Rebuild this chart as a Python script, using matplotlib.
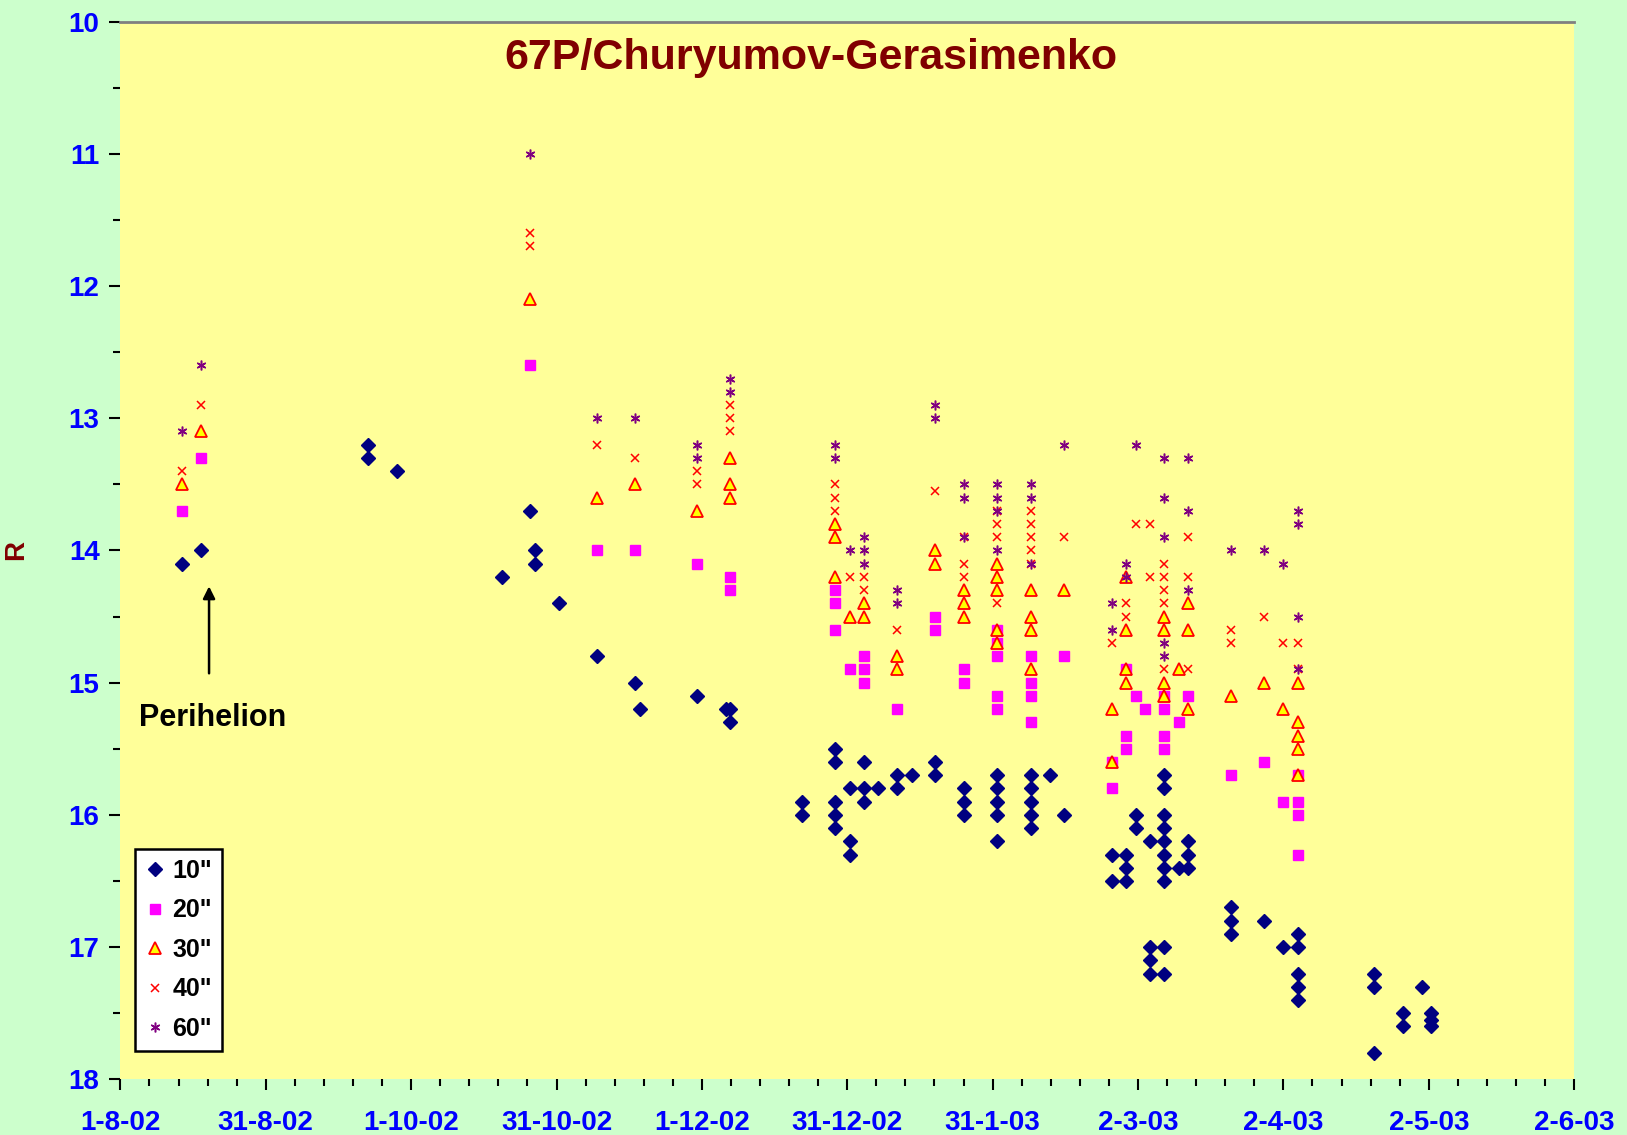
import matplotlib
matplotlib.use("Agg")
import matplotlib.pyplot as plt
import matplotlib.dates as mdates
from matplotlib.ticker import FixedLocator, NullFormatter

plt.rcParams['font.family'] = ['Liberation Sans', 'DejaVu Sans']
plt.rcParams['font.weight'] = 'bold'

# 10" telescope
d10 = ["2002-08-14", "2002-08-18", "2002-09-22", "2002-09-22", "2002-09-28",
       "2002-10-20", "2002-10-26", "2002-10-27", "2002-10-27", "2002-11-01",
       "2002-11-09", "2002-11-17", "2002-11-18", "2002-11-30", "2002-12-06",
       "2002-12-07", "2002-12-07", "2002-12-22", "2002-12-22",
       "2002-12-29", "2002-12-29", "2002-12-29", "2002-12-29", "2002-12-29",
       "2003-01-01", "2003-01-01", "2003-01-01", "2003-01-04", "2003-01-04",
       "2003-01-04", "2003-01-07", "2003-01-11", "2003-01-11", "2003-01-14",
       "2003-01-19", "2003-01-19", "2003-01-25", "2003-01-25", "2003-01-25",
       "2003-02-01", "2003-02-01", "2003-02-01", "2003-02-01", "2003-02-01",
       "2003-02-08", "2003-02-08", "2003-02-08", "2003-02-08", "2003-02-08",
       "2003-02-12", "2003-02-15", "2003-02-25", "2003-02-25",
       "2003-02-28", "2003-02-28", "2003-02-28", "2003-03-02", "2003-03-02",
       "2003-03-05", "2003-03-05", "2003-03-05", "2003-03-05",
       "2003-03-08", "2003-03-08", "2003-03-08", "2003-03-08", "2003-03-08",
       "2003-03-08", "2003-03-08", "2003-03-08", "2003-03-08", "2003-03-08",
       "2003-03-11", "2003-03-13", "2003-03-13", "2003-03-13",
       "2003-03-22", "2003-03-22", "2003-03-22", "2003-03-29", "2003-04-02",
       "2003-04-05", "2003-04-05", "2003-04-05", "2003-04-05", "2003-04-05",
       "2003-04-21", "2003-04-21", "2003-04-21", "2003-04-27", "2003-04-27",
       "2003-05-01", "2003-05-03", "2003-05-03", "2003-05-03"]
r10 = [14.1, 14.0, 13.2, 13.3, 13.4,
       14.2, 13.7, 14.0, 14.1, 14.4,
       14.8, 15.0, 15.2, 15.1, 15.2,
       15.2, 15.3, 15.9, 16.0,
       15.5, 15.6, 15.9, 16.0, 16.1,
       15.8, 16.2, 16.3, 15.6, 15.8,
       15.9, 15.8, 15.7, 15.8, 15.7,
       15.6, 15.7, 15.8, 15.9, 16.0,
       15.7, 15.8, 15.9, 16.0, 16.2,
       15.7, 15.8, 15.9, 16.0, 16.1,
       15.7, 16.0, 16.3, 16.5,
       16.3, 16.4, 16.5, 16.0, 16.1,
       16.2, 17.0, 17.1, 17.2,
       15.7, 15.8, 16.0, 16.1, 16.2,
       16.3, 16.4, 16.5, 17.0, 17.2,
       16.4, 16.2, 16.3, 16.4,
       16.7, 16.8, 16.9, 16.8, 17.0,
       16.9, 17.0, 17.2, 17.3, 17.4,
       17.2, 17.3, 17.8, 17.5, 17.6,
       17.3, 17.5, 17.55, 17.6]

# 20" telescope
d20 = ["2002-08-14", "2002-08-18", "2002-10-26", "2002-11-09", "2002-11-17",
       "2002-11-30", "2002-12-07", "2002-12-07", "2002-12-29", "2002-12-29",
       "2002-12-29", "2003-01-01", "2003-01-04", "2003-01-04", "2003-01-04",
       "2003-01-11", "2003-01-19", "2003-01-19", "2003-01-25", "2003-01-25",
       "2003-02-01", "2003-02-01", "2003-02-01", "2003-02-01", "2003-02-01",
       "2003-02-08", "2003-02-08", "2003-02-08", "2003-02-08", "2003-02-15",
       "2003-02-25", "2003-02-25", "2003-02-28", "2003-02-28", "2003-02-28",
       "2003-03-02", "2003-03-04", "2003-03-08", "2003-03-08", "2003-03-08",
       "2003-03-08", "2003-03-11", "2003-03-13", "2003-03-22", "2003-03-29",
       "2003-04-02", "2003-04-05", "2003-04-05", "2003-04-05", "2003-04-05"]
r20 = [13.7, 13.3, 12.6, 14.0, 14.0,
       14.1, 14.2, 14.3, 14.3, 14.4,
       14.6, 14.9, 14.8, 14.9, 15.0,
       15.2, 14.5, 14.6, 14.9, 15.0,
       14.6, 14.7, 14.8, 15.1, 15.2,
       14.8, 15.0, 15.1, 15.3, 14.8,
       15.6, 15.8, 14.9, 15.4, 15.5,
       15.1, 15.2, 15.1, 15.2, 15.4,
       15.5, 15.3, 15.1, 15.7, 15.6,
       15.9, 15.7, 15.9, 16.0, 16.3]

# 30" telescope
d30 = ["2002-08-14", "2002-08-18", "2002-10-26", "2002-11-09", "2002-11-17",
       "2002-11-30", "2002-12-07", "2002-12-07", "2002-12-07", "2002-12-29",
       "2002-12-29", "2002-12-29", "2003-01-01", "2003-01-04", "2003-01-04",
       "2003-01-11", "2003-01-11", "2003-01-19", "2003-01-19", "2003-01-25",
       "2003-01-25", "2003-01-25", "2003-02-01", "2003-02-01", "2003-02-01",
       "2003-02-01", "2003-02-01", "2003-02-08", "2003-02-08", "2003-02-08",
       "2003-02-08", "2003-02-15", "2003-02-25", "2003-02-25", "2003-02-28",
       "2003-02-28", "2003-02-28", "2003-02-28", "2003-03-08", "2003-03-08",
       "2003-03-08", "2003-03-08", "2003-03-11", "2003-03-13", "2003-03-13",
       "2003-03-13", "2003-03-22", "2003-03-29", "2003-04-02", "2003-04-05",
       "2003-04-05", "2003-04-05", "2003-04-05", "2003-04-05"]
r30 = [13.5, 13.1, 12.1, 13.6, 13.5,
       13.7, 13.3, 13.5, 13.6, 13.8,
       13.9, 14.2, 14.5, 14.4, 14.5,
       14.8, 14.9, 14.0, 14.1, 14.3,
       14.4, 14.5, 14.1, 14.2, 14.3,
       14.6, 14.7, 14.3, 14.5, 14.6,
       14.9, 14.3, 15.2, 15.6, 14.2,
       14.6, 14.9, 15.0, 14.5, 14.6,
       15.0, 15.1, 14.9, 14.4, 14.6,
       15.2, 15.1, 15.0, 15.2, 15.0,
       15.3, 15.4, 15.5, 15.7]

# 40" telescope
d40 = ["2002-08-14", "2002-08-18", "2002-10-26", "2002-10-26", "2002-11-09",
       "2002-11-17", "2002-11-30", "2002-11-30", "2002-12-07", "2002-12-07",
       "2002-12-07", "2002-12-29", "2002-12-29", "2002-12-29", "2003-01-01",
       "2003-01-04", "2003-01-04", "2003-01-11", "2003-01-19", "2003-01-25",
       "2003-01-25", "2003-01-25", "2003-02-01", "2003-02-01", "2003-02-01",
       "2003-02-01", "2003-02-08", "2003-02-08", "2003-02-08", "2003-02-08",
       "2003-02-08", "2003-02-15", "2003-02-25", "2003-02-28", "2003-02-28",
       "2003-03-02", "2003-03-05", "2003-03-05", "2003-03-08", "2003-03-08",
       "2003-03-08", "2003-03-08", "2003-03-08", "2003-03-13", "2003-03-13",
       "2003-03-13", "2003-03-22", "2003-03-22", "2003-03-29", "2003-04-02",
       "2003-04-05", "2003-04-05"]
r40 = [13.4, 12.9, 11.6, 11.7, 13.2,
       13.3, 13.4, 13.5, 12.9, 13.0,
       13.1, 13.5, 13.6, 13.7, 14.2,
       14.2, 14.3, 14.6, 13.55, 13.9,
       14.1, 14.2, 13.7, 13.8, 13.9,
       14.4, 13.7, 13.8, 13.9, 14.0,
       14.1, 13.9, 14.7, 14.4, 14.5,
       13.8, 13.8, 14.2, 14.1, 14.2,
       14.3, 14.4, 14.9, 13.9, 14.2,
       14.9, 14.6, 14.7, 14.5, 14.7,
       14.7, 14.9]

# 60" telescope
d60 = ["2002-08-14", "2002-08-18", "2002-10-26", "2002-11-09", "2002-11-17",
       "2002-11-30", "2002-11-30", "2002-12-07", "2002-12-07", "2002-12-29",
       "2002-12-29", "2003-01-01", "2003-01-04", "2003-01-04", "2003-01-04",
       "2003-01-11", "2003-01-11", "2003-01-19", "2003-01-19", "2003-01-25",
       "2003-01-25", "2003-01-25", "2003-02-01", "2003-02-01", "2003-02-01",
       "2003-02-01", "2003-02-08", "2003-02-08", "2003-02-08", "2003-02-15",
       "2003-02-25", "2003-02-25", "2003-02-28", "2003-02-28", "2003-03-02",
       "2003-03-08", "2003-03-08", "2003-03-08", "2003-03-08", "2003-03-08",
       "2003-03-13", "2003-03-13", "2003-03-13", "2003-03-22", "2003-03-29",
       "2003-04-02", "2003-04-05", "2003-04-05", "2003-04-05", "2003-04-05"]
r60 = [13.1, 12.6, 11.0, 13.0, 13.0,
       13.2, 13.3, 12.7, 12.8, 13.2,
       13.3, 14.0, 13.9, 14.0, 14.1,
       14.3, 14.4, 12.9, 13.0, 13.5,
       13.6, 13.9, 13.5, 13.6, 13.7,
       14.0, 13.5, 13.6, 14.1, 13.2,
       14.4, 14.6, 14.1, 14.2, 13.2,
       13.3, 13.6, 13.9, 14.7, 14.8,
       13.3, 13.7, 14.3, 14.0, 14.0,
       14.1, 13.7, 13.8, 14.5, 14.9]

x_tick_labels = ["1-8-02", "31-8-02", "1-10-02", "31-10-02", "1-12-02", "31-12-02",
                 "31-1-03", "2-3-03", "2-4-03", "2-5-03", "2-6-03"]
y_ticks = [10, 11, 12, 13, 14, 15, 16, 17, 18]

fig = plt.figure(figsize=(16.27, 11.35), dpi=100, facecolor="#CCFFCC")
ax = fig.add_axes([0.074, 0.049, 0.8935, 0.932])
ax.set_facecolor("#FFFF99")

ax.plot(mdates.datestr2num(d10), r10, ls="none", marker="D", ms=7,
        color="#000080", label='10"')
ax.plot(mdates.datestr2num(d20), r20, ls="none", marker="s", ms=7.5,
        color="#FF00FF", label='20"')
ax.plot(mdates.datestr2num(d30), r30, ls="none", marker="^", ms=9,
        mfc="#FFFF00", mec="#FF0000", mew=1.3, label='30"')
ax.plot(mdates.datestr2num(d40), r40, ls="none", marker="x", ms=6, mew=1.1,
        color="#FF0000", label='40"')
ax.plot(mdates.datestr2num(d60), r60, ls="none", marker=(6, 2, 0), ms=7, mew=1.1,
        color="#800080", label='60"')

start = mdates.datestr2num("2002-08-01")
ax.set_xlim(start, start + 305)
ax.set_ylim(18, 10)

ax.xaxis.set_major_locator(FixedLocator([start + 30.5 * i for i in range(11)]))
ax.set_xticklabels(x_tick_labels)
ax.xaxis.set_minor_locator(FixedLocator([start + 6.1 * i for i in range(51)]))
ax.xaxis.set_minor_formatter(NullFormatter())
ax.set_yticks(y_ticks)
ax.yaxis.set_minor_locator(FixedLocator([10 + 0.5 * i for i in range(17)]))

ax.tick_params(axis="both", which="major", labelsize=20, labelcolor="#0000FF",
               direction="out", width=1.5, length=8)
ax.tick_params(axis="both", which="minor", direction="out", width=1.5, length=5)
ax.tick_params(axis="x", which="major", pad=14)
ax.tick_params(axis="y", which="major", pad=7)
for lbl in ax.get_xticklabels() + ax.get_yticklabels():
    lbl.set_fontweight("bold")

for side in ["left", "right", "bottom"]:
    ax.spines[side].set_visible(False)
ax.spines["top"].set_color("#808080")
ax.spines["top"].set_linewidth(2)

ax.set_ylabel("R", fontsize=20, fontweight="bold", color="#800000")
ax.yaxis.set_label_coords(-0.063, 0.5)

ax.text(0.475, 0.966, "67P/Churyumov-Gerasimenko", transform=ax.transAxes,
        ha="center", va="center", fontsize=31, fontweight="bold", color="#800000")

ax.annotate("", xy=(start + 18.6, 14.25), xytext=(start + 18.6, 14.95),
            arrowprops=dict(arrowstyle="-|>", color="black", lw=1.8,
                            mutation_scale=18))
ax.text(start + 4.0, 15.27, "Perihelion", ha="left", va="center",
        fontsize=22, fontweight="bold", color="black")

leg = ax.legend(loc="lower left", bbox_to_anchor=(0.010, 0.027), borderaxespad=0,
                fontsize=18, frameon=True, fancybox=False, handlelength=0.8,
                handletextpad=0.3, borderpad=0.4, labelspacing=0.62)
leg.get_frame().set_edgecolor("black")
leg.get_frame().set_linewidth(1.8)
leg.get_frame().set_facecolor("white")
leg.get_frame().set_alpha(1)

fig.savefig("out.png", dpi=100, facecolor=fig.get_facecolor())
